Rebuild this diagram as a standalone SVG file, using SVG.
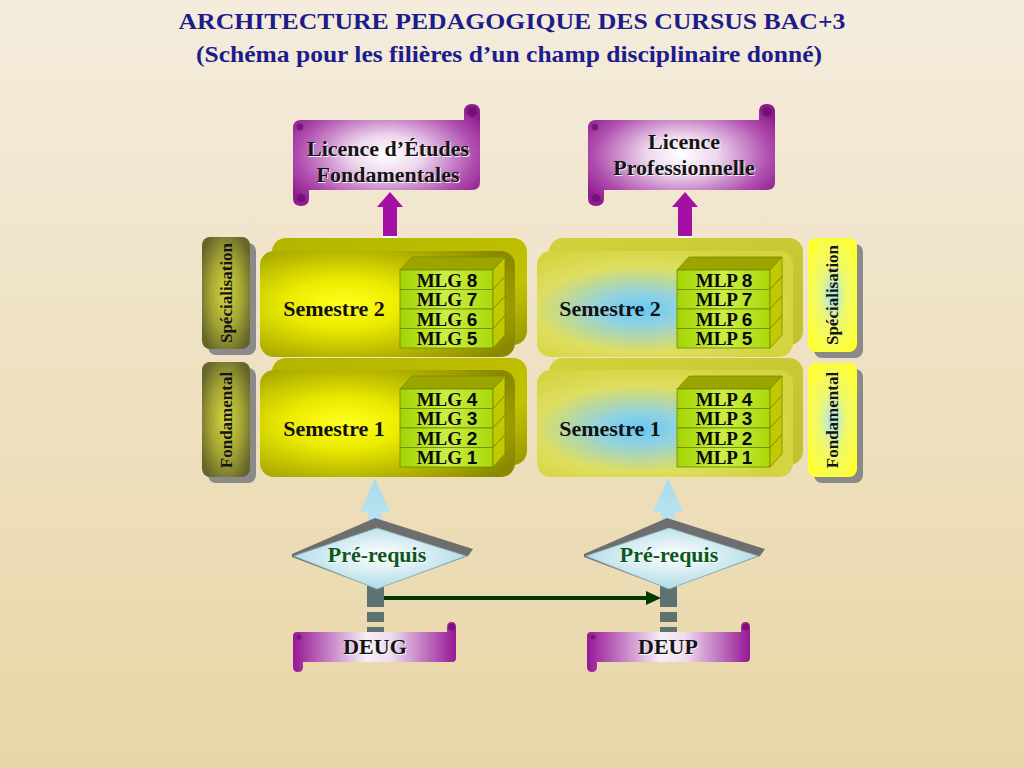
<svg xmlns="http://www.w3.org/2000/svg" width="1024" height="768" viewBox="0 0 1024 768">
<defs>
<linearGradient id="bg" x1="0" y1="0" x2="0" y2="1"><stop offset="0" stop-color="#f4ecdd"/><stop offset="1" stop-color="#e9d6a6"/></linearGradient>
<radialGradient id="yFront" cx="0.33" cy="0.5" r="0.75"><stop offset="0" stop-color="#ffff1e"/><stop offset="0.3" stop-color="#ecec00"/><stop offset="0.7" stop-color="#b0b000"/><stop offset="1" stop-color="#8a8a00"/></radialGradient>
<linearGradient id="yBack" x1="0" y1="0" x2="1" y2="1"><stop offset="0" stop-color="#b4b400"/><stop offset="0.7" stop-color="#c2c200"/><stop offset="1" stop-color="#989800"/></linearGradient>
<radialGradient id="bFront" cx="0.4" cy="0.55" r="0.62"><stop offset="0" stop-color="#66c8f4"/><stop offset="0.25" stop-color="#92d2e0"/><stop offset="0.65" stop-color="#dede60"/><stop offset="1" stop-color="#d4d440"/></radialGradient>
<linearGradient id="bBack" x1="0" y1="0" x2="1" y2="1"><stop offset="0" stop-color="#d2d23c"/><stop offset="1" stop-color="#c0c030"/></linearGradient>
<radialGradient id="tabL" cx="0.5" cy="0.5" r="0.6"><stop offset="0" stop-color="#d6d640"/><stop offset="0.55" stop-color="#a4a434"/><stop offset="1" stop-color="#66662c"/></radialGradient>
<radialGradient id="tabR" cx="0.5" cy="0.5" r="0.6"><stop offset="0" stop-color="#a8e6f2"/><stop offset="0.45" stop-color="#eef870"/><stop offset="1" stop-color="#ffff30"/></radialGradient>
<radialGradient id="scrollG" cx="0.5" cy="0.5" r="0.62"><stop offset="0" stop-color="#ffffff"/><stop offset="0.3" stop-color="#eed8ee"/><stop offset="0.75" stop-color="#b050b0"/><stop offset="1" stop-color="#8e1c8e"/></radialGradient>
<linearGradient id="deugG" x1="0" y1="0" x2="1" y2="0"><stop offset="0" stop-color="#961896"/><stop offset="0.45" stop-color="#f6eef6"/><stop offset="0.6" stop-color="#eedcee"/><stop offset="1" stop-color="#961896"/></linearGradient>
<linearGradient id="rowG" x1="0" y1="0" x2="1" y2="0"><stop offset="0" stop-color="#a4d404"/><stop offset="0.5" stop-color="#ccee44"/><stop offset="1" stop-color="#aad80a"/></linearGradient>
<radialGradient id="diaG" cx="0.5" cy="0.45" r="0.6"><stop offset="0" stop-color="#ffffff"/><stop offset="1" stop-color="#a8d8e4"/></radialGradient>
<linearGradient id="blueA" x1="0" y1="0" x2="0" y2="1"><stop offset="0" stop-color="#a8dcec"/><stop offset="1" stop-color="#bce4ee"/></linearGradient>
<style>
.t{font-family:"Liberation Serif","Times New Roman",serif;font-weight:bold;text-anchor:middle}
.title{fill:#1c1c8c;font-size:24px}
.dark{fill:#141414}
.glow{fill:#ffffff;opacity:0.85}
.sem{font-size:22px;fill:#111}
.row{font-size:19px;fill:#0a0a0a}
.dig{font-family:"Liberation Sans",Arial,sans-serif}
.tab{font-size:17px;fill:#141414}
.pre{font-size:22px;fill:#0b5a1c}
.lic{font-size:22px}
.rowbox{fill:url(#rowG);stroke:#6a8a00;stroke-width:0.8}
.side{fill:#c4c800;stroke:#7a8a00;stroke-width:0.8}
.topf{fill:#9ca400;stroke:#7a8a00;stroke-width:0.8}
.shadow{fill:#8a8a8a}
.gray{fill:#5f7272}
.purple{fill:#a410a4}
.curl{fill:#6a0c6a;opacity:0.7}
</style>
</defs>
<rect width="1024" height="768" fill="url(#bg)"/>

<g id="title">
<text class="t title" x="512" y="29" textLength="667" lengthAdjust="spacingAndGlyphs">ARCHITECTURE PEDAGOGIQUE DES CURSUS BAC+3</text>
<text class="t title" x="509" y="62" textLength="626" lengthAdjust="spacingAndGlyphs" style="font-size:23px">(Schéma pour les filières d’un champ disciplinaire donné)</text>
</g>

<g id="connectors">
<polygon class="purple" points="390,192 377,207 383,207 383,236 397,236 397,207 403,207"/>
<rect x="383" y="236" width="14" height="3" fill="#fff"/><rect x="383" y="239" width="14" height="2" class="purple"/><rect x="383" y="241" width="14" height="2" fill="#c03060"/>
<polygon class="purple" points="685,192 672,207 678,207 678,236 692,236 692,207 698,207"/>
<rect x="678" y="236" width="14" height="3" fill="#fff"/><rect x="678" y="239" width="14" height="2" class="purple"/><rect x="678" y="241" width="14" height="2" fill="#c03060"/>
<polygon fill="url(#blueA)" points="375,478 360,512 368,512 368,524 382,524 382,512 390,512"/>
<polygon fill="url(#blueA)" points="668,478 653,512 661,512 661,524 675,524 675,512 683,512"/>
<rect class="gray" x="367" y="586" width="17" height="21"/><rect class="gray" x="367" y="612" width="17" height="10"/><rect class="gray" x="367" y="627" width="17" height="6"/>
<rect class="gray" x="660" y="586" width="17" height="21"/><rect class="gray" x="660" y="612" width="17" height="10"/><rect class="gray" x="660" y="627" width="17" height="6"/>
<line x1="384" y1="598" x2="649" y2="598" stroke="#003a00" stroke-width="4"/>
<polygon fill="#003a00" points="646,591 661,598 646,605"/>
</g>

<g id="licence-fondamentale">
<path fill="url(#scrollG)" d="M293,128 Q293,120 301,120 L464,120 L464,112 Q464,104 472,104 Q480,104 480,112 L480,182 Q480,190 472,190 L309,190 L309,198 Q309,206 301,206 Q293,206 293,198 Z"/>
<circle class="curl" cx="472" cy="112" r="5"/><circle class="curl" cx="300" cy="127" r="3.5"/><circle class="curl" cx="301" cy="198" r="4"/>
<text class="t glow lic" x="389" y="157">Licence d’Études</text>
<text class="t dark lic" x="388" y="156">Licence d’Études</text>
<text class="t glow lic" x="389" y="183">Fondamentales</text>
<text class="t dark lic" x="388" y="182">Fondamentales</text>
</g>

<g id="licence-pro">
<path fill="url(#scrollG)" d="M588,128 Q588,120 596,120 L759,120 L759,112 Q759,104 767,104 Q775,104 775,112 L775,182 Q775,190 767,190 L604,190 L604,198 Q604,206 596,206 Q588,206 588,198 Z"/>
<circle class="curl" cx="767" cy="112" r="5"/><circle class="curl" cx="595" cy="127" r="3.5"/><circle class="curl" cx="596" cy="198" r="4"/>
<text class="t glow lic" x="685" y="150">Licence</text>
<text class="t dark lic" x="684" y="149">Licence</text>
<text class="t glow lic" x="685" y="176">Professionnelle</text>
<text class="t dark lic" x="684" y="175">Professionnelle</text>
</g>

<g id="tab-spec-left">
<rect class="shadow" x="208" y="243" width="48" height="112" rx="8"/>
<rect x="202" y="237" width="48" height="112" rx="8" fill="url(#tabL)"/>
<text class="t tab" transform="translate(232,293) rotate(-90)">Spécialisation</text>
</g>
<g id="tab-fond-left">
<rect class="shadow" x="208" y="368" width="48" height="115" rx="8"/>
<rect x="202" y="362" width="48" height="115" rx="8" fill="url(#tabL)"/>
<text class="t tab" transform="translate(232,420) rotate(-90)">Fondamental</text>
</g>
<g id="tab-spec-right">
<rect class="shadow" x="814" y="244" width="49" height="114" rx="8"/>
<rect x="808" y="238" width="49" height="114" rx="8" fill="url(#tabR)"/>
<text class="t tab" transform="translate(838,295) rotate(-90)">Spécialisation</text>
</g>
<g id="tab-fond-right">
<rect class="shadow" x="814" y="369" width="49" height="114" rx="8"/>
<rect x="808" y="363" width="49" height="114" rx="8" fill="url(#tabR)"/>
<text class="t tab" transform="translate(838,420) rotate(-90)">Fondamental</text>
</g>

<g id="semestre2-left">
<rect x="272" y="238" width="255" height="107" rx="14" fill="url(#yBack)"/>
<rect x="260" y="251" width="255" height="106" rx="14" fill="url(#yFront)"/>
<text class="t sem" x="334" y="316">Semestre 2</text>
<polygon class="topf" points="400,270 412,257 505,257 493,270"/>
<rect class="rowbox" x="400" y="270" width="93" height="19.5"/><polygon class="side" points="493,270 505,257 505,276.5 493,289.5"/>
<rect class="rowbox" x="400" y="289.5" width="93" height="19.5"/><polygon class="side" points="493,289.5 505,276.5 505,296 493,309"/>
<rect class="rowbox" x="400" y="309" width="93" height="19.5"/><polygon class="side" points="493,309 505,296 505,315.5 493,328.5"/>
<rect class="rowbox" x="400" y="328.5" width="93" height="19.5"/><polygon class="side" points="493,328.5 505,315.5 505,335 493,348"/>
<text class="t row" x="447" y="286.5">MLG <tspan class="dig">8</tspan></text>
<text class="t row" x="447" y="306">MLG <tspan class="dig">7</tspan></text>
<text class="t row" x="447" y="325.5">MLG <tspan class="dig">6</tspan></text>
<text class="t row" x="447" y="345">MLG <tspan class="dig">5</tspan></text>
</g>

<g id="semestre1-left">
<rect x="272" y="358" width="255" height="107" rx="14" fill="url(#yBack)"/>
<rect x="260" y="370" width="255" height="107" rx="14" fill="url(#yFront)"/>
<text class="t sem" x="334" y="436">Semestre 1</text>
<polygon class="topf" points="400,389 412,376 505,376 493,389"/>
<rect class="rowbox" x="400" y="389" width="93" height="19.5"/><polygon class="side" points="493,389 505,376 505,395.5 493,408.5"/>
<rect class="rowbox" x="400" y="408.5" width="93" height="19.5"/><polygon class="side" points="493,408.5 505,395.5 505,415 493,428"/>
<rect class="rowbox" x="400" y="428" width="93" height="19.5"/><polygon class="side" points="493,428 505,415 505,434.5 493,447.5"/>
<rect class="rowbox" x="400" y="447.5" width="93" height="19.5"/><polygon class="side" points="493,447.5 505,434.5 505,454 493,467"/>
<text class="t row" x="447" y="405.5">MLG <tspan class="dig">4</tspan></text>
<text class="t row" x="447" y="425">MLG <tspan class="dig">3</tspan></text>
<text class="t row" x="447" y="444.5">MLG <tspan class="dig">2</tspan></text>
<text class="t row" x="447" y="464">MLG <tspan class="dig">1</tspan></text>
</g>

<g id="semestre2-right">
<rect x="549" y="238" width="254" height="107" rx="14" fill="url(#bBack)"/>
<rect x="537" y="251" width="256" height="106" rx="14" fill="url(#bFront)"/>
<text class="t sem" x="610" y="316">Semestre 2</text>
<polygon class="topf" points="677,270 689,257 782,257 770,270"/>
<rect class="rowbox" x="677" y="270" width="93" height="19.5"/><polygon class="side" points="770,270 782,257 782,276.5 770,289.5"/>
<rect class="rowbox" x="677" y="289.5" width="93" height="19.5"/><polygon class="side" points="770,289.5 782,276.5 782,296 770,309"/>
<rect class="rowbox" x="677" y="309" width="93" height="19.5"/><polygon class="side" points="770,309 782,296 782,315.5 770,328.5"/>
<rect class="rowbox" x="677" y="328.5" width="93" height="19.5"/><polygon class="side" points="770,328.5 782,315.5 782,335 770,348"/>
<text class="t row" x="724" y="286.5">MLP <tspan class="dig">8</tspan></text>
<text class="t row" x="724" y="306">MLP <tspan class="dig">7</tspan></text>
<text class="t row" x="724" y="325.5">MLP <tspan class="dig">6</tspan></text>
<text class="t row" x="724" y="345">MLP <tspan class="dig">5</tspan></text>
</g>

<g id="semestre1-right">
<rect x="549" y="358" width="254" height="107" rx="14" fill="url(#bBack)"/>
<rect x="537" y="370" width="256" height="107" rx="14" fill="url(#bFront)"/>
<text class="t sem" x="610" y="436">Semestre 1</text>
<polygon class="topf" points="677,389 689,376 782,376 770,389"/>
<rect class="rowbox" x="677" y="389" width="93" height="19.5"/><polygon class="side" points="770,389 782,376 782,395.5 770,408.5"/>
<rect class="rowbox" x="677" y="408.5" width="93" height="19.5"/><polygon class="side" points="770,408.5 782,395.5 782,415 770,428"/>
<rect class="rowbox" x="677" y="428" width="93" height="19.5"/><polygon class="side" points="770,428 782,415 782,434.5 770,447.5"/>
<rect class="rowbox" x="677" y="447.5" width="93" height="19.5"/><polygon class="side" points="770,447.5 782,434.5 782,454 770,467"/>
<text class="t row" x="724" y="405.5">MLP <tspan class="dig">4</tspan></text>
<text class="t row" x="724" y="425">MLP <tspan class="dig">3</tspan></text>
<text class="t row" x="724" y="444.5">MLP <tspan class="dig">2</tspan></text>
<text class="t row" x="724" y="464">MLP <tspan class="dig">1</tspan></text>
</g>

<g id="prerequis-left">
<polygon fill="#6e6e6e" points="292,554 375,518 473,549 468,556 377,589 292,557"/>
<polygon fill="url(#diaG)" stroke="#8ab8c8" stroke-width="0.8" points="294,556 377,528 466,556 377,589"/>
<text class="t glow" x="378" y="563" style="font-size:22px">Pré-requis</text>
<text class="t pre" x="377" y="562">Pré-requis</text>
</g>
<g id="prerequis-right">
<polygon fill="#6e6e6e" points="584,554 667,518 765,549 760,556 669,589 584,557"/>
<polygon fill="url(#diaG)" stroke="#8ab8c8" stroke-width="0.8" points="586,556 669,528 758,556 669,589"/>
<text class="t glow" x="670" y="563" style="font-size:22px">Pré-requis</text>
<text class="t pre" x="669" y="562">Pré-requis</text>
</g>

<g id="deug">
<path fill="url(#deugG)" d="M293,636 Q293,632 297,632 L447,632 L447,627 Q447,622 451.5,622 Q456,622 456,627 L456,658 Q456,662 452,662 L303,662 L303,667 Q303,672 298,672 Q293,672 293,667 Z"/>
<circle class="curl" cx="451.5" cy="627" r="3.5"/><circle class="curl" cx="299" cy="637" r="2.5"/>
<text class="t glow" x="376" y="655" style="font-size:22px">DEUG</text>
<text class="t dark" x="375" y="654" style="font-size:22px">DEUG</text>
</g>
<g id="deup">
<path fill="url(#deugG)" d="M587,636 Q587,632 591,632 L741,632 L741,627 Q741,622 745.5,622 Q750,622 750,627 L750,658 Q750,662 746,662 L597,662 L597,667 Q597,672 592,672 Q587,672 587,667 Z"/>
<circle class="curl" cx="745.5" cy="627" r="3.5"/><circle class="curl" cx="593" cy="637" r="2.5"/>
<text class="t glow" x="669" y="655" style="font-size:22px">DEUP</text>
<text class="t dark" x="668" y="654" style="font-size:22px">DEUP</text>
</g>
</svg>
